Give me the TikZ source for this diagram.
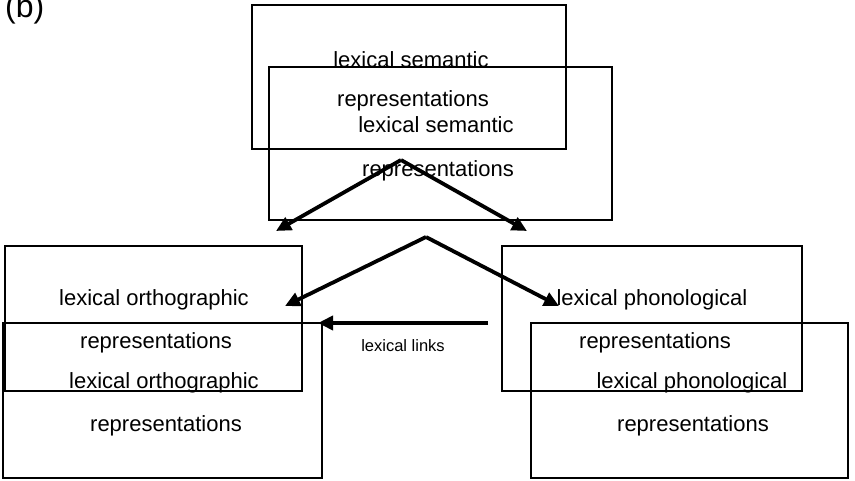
\documentclass[tikz,border=0pt]{standalone}
\usepackage{fontspec}
\setmainfont{Liberation Sans}
\usetikzlibrary{arrows.meta}
\begin{document}
\begin{tikzpicture}[x=1pt,y=-1pt,
  box/.style={draw=black, line width=2.8pt, inner sep=0pt, fill=none},
  lbl/.style={inner sep=0pt, font=\fontsize{22}{25}\selectfont},
  small/.style={inner sep=0pt, font=\fontsize{16.5}{19}\selectfont},
  link/.style={line width=3.8pt, -{Triangle[length=15pt,width=14pt]}}]
\useasboundingbox (0,0) rectangle (855,481);
% boxes
\node[box, minimum width=314pt, minimum height=144pt] (semA) at (409,77) {};
\node[box, minimum width=343pt, minimum height=153pt] (semB) at (440.5,143.5) {};
\node[box, minimum width=297pt, minimum height=145pt] (ortA) at (153.5,318.5) {};
\node[box, minimum width=319pt, minimum height=155pt] (ortB) at (162.5,400.5) {};
\node[box, minimum width=300pt, minimum height=145pt] (phoA) at (652,318.5) {};
\node[box, minimum width=317pt, minimum height=155pt] (phoB) at (689.5,400.5) {};
% texts
\node[anchor=west, inner sep=0pt, font=\fontsize{32}{35}\selectfont] (lab) at (5,9) {(b)};
\node[lbl] (t1) at (411,60) {lexical semantic};
\node[lbl] (t2) at (413,101) {representations};
\node[lbl] (t3) at (436,125) {lexical semantic};
\node[lbl] (t4) at (438,171) {representations};
\node[lbl] (t5) at (154,300) {lexical orthographic};
\node[lbl] (t6) at (156,343) {representations};
\node[lbl] (t7) at (164,383) {lexical orthographic};
\node[lbl] (t8) at (166,426) {representations};
\node[lbl] (t9) at (652,300) {lexical phonological};
\node[lbl] (t10) at (655,343) {representations};
\node[lbl] (t11) at (692,383) {lexical phonological};
\node[lbl] (t12) at (693,426) {representations};
\node[small] (t13) at (403,346) {lexical links};
% connectors
\coordinate (s1) at (401,160);
\coordinate (e1) at (276,231);
\coordinate (e2) at (527,231);
\coordinate (s2) at (426,237);
\coordinate (e3) at (285,306);
\coordinate (e4) at (559,306);
\coordinate (s3) at (488,323);
\coordinate (e5) at (318,323);
\draw[link] (s1) -- (e1);
\draw[link] (s1) -- (e2);
\draw[link] (s2) -- (e3);
\draw[link] (s2) -- (e4);
\draw[link] (s3) -- (e5);
\end{tikzpicture}
\end{document}
